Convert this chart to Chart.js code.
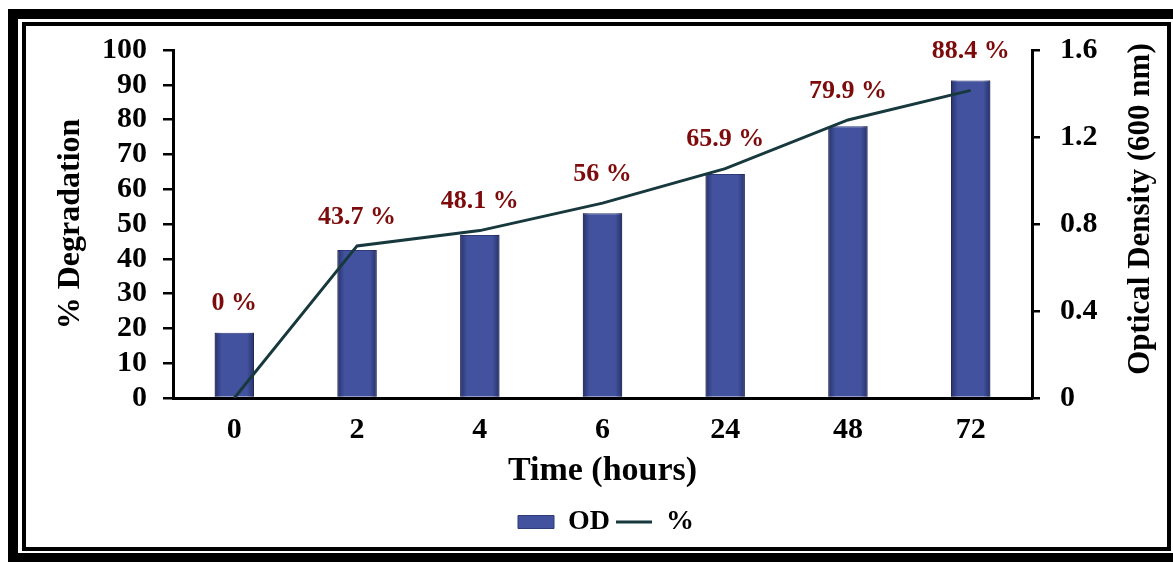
<!DOCTYPE html>
<html>
<head>
<meta charset="utf-8">
<script src="https://cdn.jsdelivr.net/npm/chart.js@4.4.1/dist/chart.umd.min.js"></script>
<style>
  html, body { margin: 0; padding: 0; background: #ffffff; }
  #wrap { width: 1173px; height: 562px; position: relative; }
  canvas { display: block; }
</style>
</head>
<body>
<div id="wrap"><canvas id="chart" width="1173" height="562"></canvas></div>
<script>
// Sampling times and measured series
const hours = ['0', '2', '4', '6', '24', '48', '72'];
const opticalDensity = [0.30, 0.68, 0.75, 0.85, 1.03, 1.25, 1.46];
const degradation = [0, 43.7, 48.1, 56, 65.9, 79.9, 88.4];

// Axis ranges
const degradationAxis = { min: 0, max: 100, step: 10 };
const densityAxis = { min: 0, max: 1.6, step: 0.4 };
const densityTitle = 'Optical Density (600 nm)';

const SERIF = '"Liberation Serif", "Times New Roman", serif';
const BAR_COLOR = '#42529f';
const LINE_COLOR = '#17393e';
const LABEL_COLOR = '#7d0b0b';

// Double black frame around the figure
const framePlugin = {
  id: 'frame',
  beforeDraw(chart) {
    const ctx = chart.ctx;
    ctx.save();
    ctx.fillStyle = '#ffffff';
    ctx.fillRect(0, 0, chart.width, chart.height);
    ctx.fillStyle = '#000000';
    ctx.fillRect(8, 9, chart.width - 8, 10);      // top band
    ctx.fillRect(8, 9, 10, chart.height - 9);     // left band
    ctx.fillRect(8, 553, chart.width - 8, 9);     // bottom band
    ctx.lineWidth = 4;
    ctx.strokeStyle = '#000000';
    ctx.strokeRect(24, 24, 1145, 525);            // inner thin rule
    ctx.restore();
  }
};

// Right axis title, reading bottom to top
const rightTitlePlugin = {
  id: 'rightTitle',
  afterDraw(chart) {
    const ctx = chart.ctx;
    const area = chart.chartArea;
    ctx.save();
    ctx.translate(1141, (area.top + area.bottom) / 2 - 15);
    ctx.rotate(-Math.PI / 2);
    ctx.font = 'bold 31px ' + SERIF;
    ctx.fillStyle = '#000000';
    ctx.textAlign = 'center';
    ctx.textBaseline = 'middle';
    ctx.fillText(densityTitle, 0, 0);
    ctx.restore();
  }
};

// Soft darkening on the bar edges
const barShadePlugin = {
  id: 'barShade',
  afterDatasetDraw(chart, args) {
    if (args.index !== 0) return;
    const ctx = chart.ctx;
    ctx.save();
    args.meta.data.forEach(bar => {
      const left = bar.x - bar.width / 2;
      const right = bar.x + bar.width / 2;
      const g = ctx.createLinearGradient(left, 0, right, 0);
      g.addColorStop(0, 'rgba(18,24,62,0.55)');
      g.addColorStop(0.18, 'rgba(18,24,62,0)');
      g.addColorStop(0.82, 'rgba(18,24,62,0)');
      g.addColorStop(1, 'rgba(18,24,62,0.55)');
      ctx.fillStyle = g;
      ctx.fillRect(left, bar.y, bar.width, bar.base - bar.y);
    });
    ctx.restore();
  }
};

// Percentage labels above each time point
const valueLabelPlugin = {
  id: 'valueLabels',
  afterDatasetsDraw(chart) {
    const ctx = chart.ctx;
    const bars = chart.getDatasetMeta(0).data;
    const points = chart.getDatasetMeta(1).data;
    ctx.save();
    ctx.font = 'bold 26px ' + SERIF;
    ctx.fillStyle = LABEL_COLOR;
    ctx.textAlign = 'center';
    ctx.textBaseline = 'middle';
    degradation.forEach((v, i) => {
      const topY = Math.min(bars[i].y, points[i].y);
      ctx.fillText(v + ' %', points[i].x, topY - 29);
    });
    ctx.restore();
  }
};

new Chart(document.getElementById('chart'), {
  data: {
    labels: hours,
    datasets: [
      {
        type: 'bar',
        label: 'OD',
        data: opticalDensity,
        yAxisID: 'y1',
        backgroundColor: BAR_COLOR,
        borderColor: '#2f3b78',
        borderWidth: 1,
        categoryPercentage: 1,
        barPercentage: 0.32,
        order: 1
      },
      {
        type: 'line',
        label: '%',
        data: degradation,
        yAxisID: 'y',
        borderColor: LINE_COLOR,
        backgroundColor: LINE_COLOR,
        borderWidth: 3,
        pointRadius: 0,
        tension: 0,
        order: 0
      }
    ]
  },
  options: {
    responsive: false,
    devicePixelRatio: 1,
    animation: false,
    layout: { padding: { left: 48, right: 9, top: 50, bottom: 16 } },
    plugins: {
      tooltip: { enabled: false },
      legend: {
        position: 'bottom',
        labels: {
          usePointStyle: true,
          pointStyleWidth: 36,
          boxHeight: 13,
          padding: 6,
          color: '#000000',
          font: { family: SERIF, size: 28, weight: 'bold' },
          sort: (a, b) => a.datasetIndex - b.datasetIndex,
          generateLabels(chart) {
            return chart.data.datasets.map((ds, i) => ({
              text: ds.label,
              datasetIndex: i,
              fillStyle: ds.type === 'bar' ? BAR_COLOR : LINE_COLOR,
              strokeStyle: ds.type === 'bar' ? '#2f3b78' : LINE_COLOR,
              lineWidth: ds.type === 'bar' ? 1 : 3,
              pointStyle: ds.type === 'bar' ? 'rect' : 'line',
              fontColor: '#000000',
              hidden: false
            }));
          }
        }
      }
    },
    scales: {
      x: {
        offset: true,
        grid: { display: false, drawTicks: false },
        border: { display: true, color: '#000000', width: 3 },
        ticks: {
          color: '#000000',
          padding: 14,
          font: { family: SERIF, size: 30, weight: 'bold' }
        },
        title: {
          display: true,
          text: 'Time (hours)',
          color: '#000000',
          padding: { top: 4, bottom: 10 },
          font: { family: SERIF, size: 34, weight: 'bold' }
        },
        afterFit(scale) { scale.height = 104; }
      },
      y: {
        position: 'left',
        min: degradationAxis.min,
        max: degradationAxis.max,
        grid: { drawOnChartArea: false, drawTicks: true, tickLength: 10, color: '#000000', lineWidth: 2.5 },
        border: { display: true, color: '#000000', width: 3 },
        ticks: {
          stepSize: degradationAxis.step,
          autoSkip: false,
          color: '#000000',
          padding: 16,
          font: { family: SERIF, size: 30, weight: 'bold' }
        },
        title: {
          display: true,
          text: '% Degradation',
          color: '#000000',
          padding: { top: 4, bottom: 4 },
          font: { family: SERIF, size: 32, weight: 'bold' }
        },
        afterFit(scale) { scale.width = 125; }
      },
      y1: {
        position: 'right',
        min: densityAxis.min,
        max: densityAxis.max,
        grid: { drawOnChartArea: false, drawTicks: true, tickLength: 8, color: '#000000', lineWidth: 2.5 },
        border: { display: true, color: '#000000', width: 3 },
        ticks: {
          stepSize: densityAxis.step,
          autoSkip: false,
          color: '#000000',
          padding: 20,
          font: { family: SERIF, size: 30, weight: 'bold' }
        },
        title: { display: false },
        afterFit(scale) { scale.width = 132; }
      }
    }
  },
  plugins: [framePlugin, barShadePlugin, valueLabelPlugin, rightTitlePlugin]
});
</script>
</body>
</html>
